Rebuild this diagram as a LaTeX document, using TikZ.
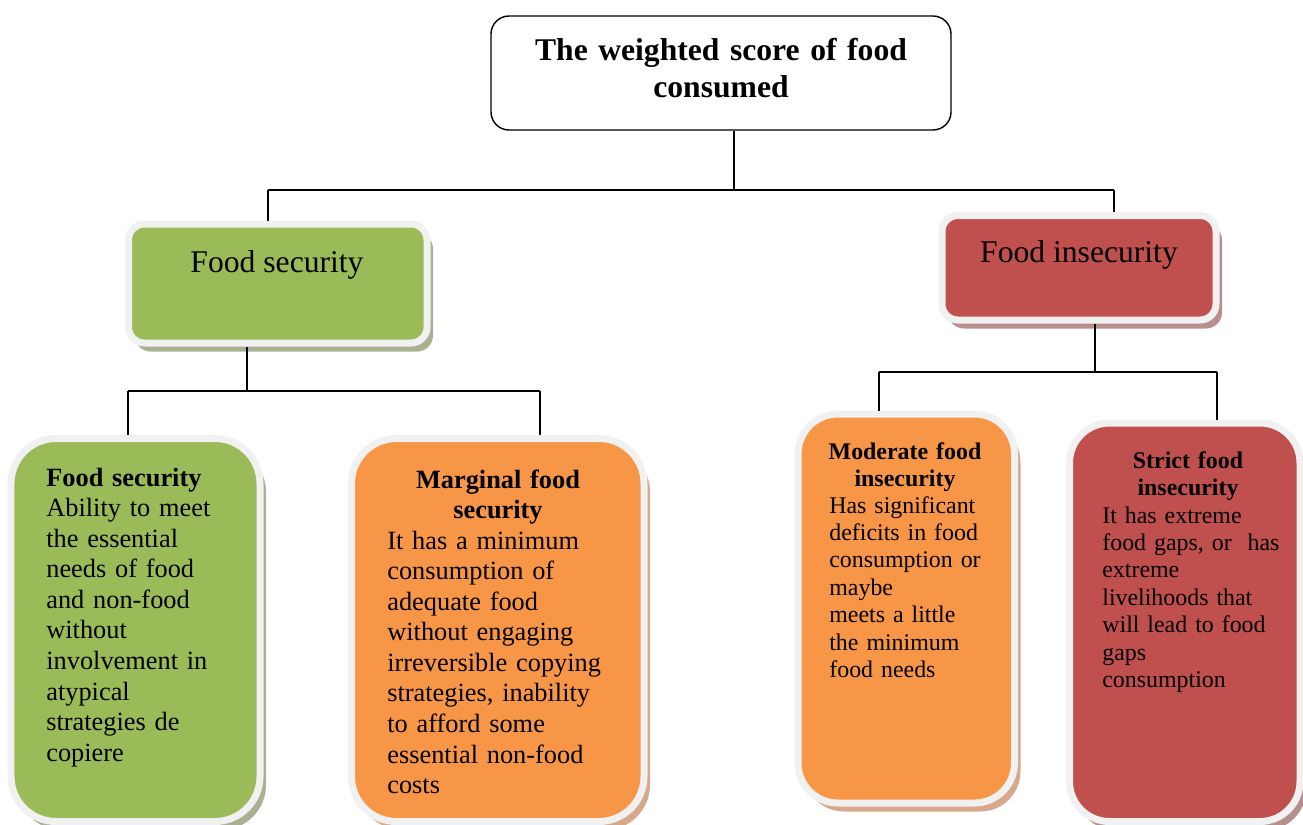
\documentclass[tikz,border=0pt]{standalone}
\usepackage{fontspec}
\setmainfont{Liberation Serif}
\usepackage{xcolor}
\usepackage{tikz}
\usetikzlibrary{shapes,shadows,fit,positioning}

\definecolor{secgreen}{HTML}{9BBB59}
\definecolor{margorange}{HTML}{F79646}
\definecolor{insecred}{HTML}{C0504D}
\definecolor{ringgray}{HTML}{F1F1F1}
\definecolor{greenshade}{HTML}{A9B193}
\definecolor{orangeshade}{HTML}{D6A88C}
\definecolor{redshade}{HTML}{B78F8F}

\begin{document}
\begin{tikzpicture}[x=0.02cm,y=-0.02cm,
  card/.style={draw=ringgray, line width=0.14cm, inner sep=0pt},
  greencard/.style={card, fill=secgreen,
    drop shadow={shadow xshift=0.12cm, shadow yshift=-0.17cm, fill=greenshade, opacity=1}},
  orangecard/.style={card, fill=margorange,
    drop shadow={shadow xshift=0.12cm, shadow yshift=-0.17cm, fill=orangeshade, opacity=1}},
  redcard/.style={card, fill=insecred,
    drop shadow={shadow xshift=0.12cm, shadow yshift=-0.17cm, fill=redshade, opacity=1}},
  wire/.style={line width=0.8pt},
  bigtext/.style={inner sep=0pt, font=\fontsize{18}{21.6}\selectfont},
  bodytext/.style={inner sep=0pt, font=\fontsize{15}{17.4}\selectfont},
  smalltext/.style={inner sep=0pt, font=\fontsize{13.6}{15.65}\selectfont}]
\useasboundingbox (0,0) rectangle (1303,825);

% Top box
\node[draw, line width=0.8pt, rounded corners=0.36cm, inner sep=0pt, fit={(491,16) (951,130)}] (score) {};
\node[bigtext, anchor=base, text width=8.8cm, align=center, font=\fontsize{18}{21.6}\selectfont\bfseries] (scoretxt) at (721,60) {The weighted score of food\\consumed};

% Second level
\node[greencard, rounded corners=0.32cm, fit={(128.5,224) (427,343)}] (secure) {};
\node[bigtext, anchor=base] (securetxt) at (277,272) {Food security};

\node[redcard, rounded corners=0.32cm, fit={(942,215.5) (1216,320)}] (insecure) {};
\node[bigtext, anchor=base] (insecuretxt) at (1079,262) {Food insecurity};

% Third level
\node[greencard, rounded corners=0.9cm, fit={(11,438.5) (260,821.5)}] (full) {};
\node[bodytext, anchor=base west, text width=4.6cm, align=left] (fulltxt) at (46,486)
  {\textbf{Food security}\\Ability to meet\\the essential\\needs of food\\and non-food\\without\\involvement in\\atypical\\strategies de\\copiere};

\node[orangecard, rounded corners=0.9cm, fit={(351.5,438.5) (644,821.5)}] (marginal) {};
\node[bodytext, anchor=base, text width=5cm, align=center, font=\fontsize{15}{17.4}\selectfont\bfseries] (marginalhead) at (498,488)
  {Marginal food\\security};
\node[bodytext, anchor=base west, text width=5cm, align=left] (marginaltxt) at (387,549)
  {It has a minimum\\consumption of\\adequate food\\without engaging\\irreversible copying\\strategies, inability\\to afford some\\essential non-food\\costs};

\node[orangecard, rounded corners=0.8cm, fit={(798,414) (1014.5,803)}] (moderate) {};
\node[smalltext, anchor=base, text width=4cm, align=center, font=\fontsize{13.6}{15.65}\selectfont\bfseries] (moderatehead) at (905,459)
  {Moderate food\\insecurity};
\node[smalltext, anchor=base west, text width=4cm, align=left] (moderatetxt) at (829,513)
  {Has significant\\deficits in food\\consumption or\\maybe\\meets a little\\the minimum\\food needs};

\node[redcard, rounded corners=0.8cm, fit={(1069.5,423) (1300,821.5)}] (severe) {};
\node[smalltext, anchor=base, text width=4cm, align=center, font=\fontsize{13.6}{15.65}\selectfont\bfseries] (severehead) at (1188,468)
  {Strict food\\insecurity};
\node[smalltext, anchor=base west, text width=3.8cm, align=left] (severetxt) at (1102,523)
  {It has extreme\\food gaps, or~ has\\extreme\\livelihoods that\\will lead to food\\gaps\\consumption};

% Connectors
\coordinate (hub1) at (734,190);
\coordinate (left1) at (268,190);
\coordinate (right1) at (1114,190);
\draw[wire] (hub1 |- score.south) -- (hub1);
\draw[wire] (left1) -- (right1);
\draw[wire] (left1) -- (left1 |- secure.north);
\draw[wire] (right1) -- (right1 |- insecure.north);

\coordinate (hub2) at (247,391);
\coordinate (left2) at (128,391);
\coordinate (right2) at (540,391);
\draw[wire] (hub2 |- secure.south) -- (hub2);
\draw[wire] (left2) -- (right2);
\draw[wire] (left2) -- (left2 |- full.north);
\draw[wire] (right2) -- (right2 |- marginal.north);

\coordinate (hub3) at (1095,372);
\coordinate (left3) at (879,372);
\coordinate (right3) at (1217,372);
\draw[wire] (hub3 |- insecure.south) -- (hub3);
\draw[wire] (left3) -- (right3);
\draw[wire] (left3) -- (left3 |- moderate.north);
\draw[wire] (right3) -- (right3 |- severe.north);
\end{tikzpicture}
\end{document}
